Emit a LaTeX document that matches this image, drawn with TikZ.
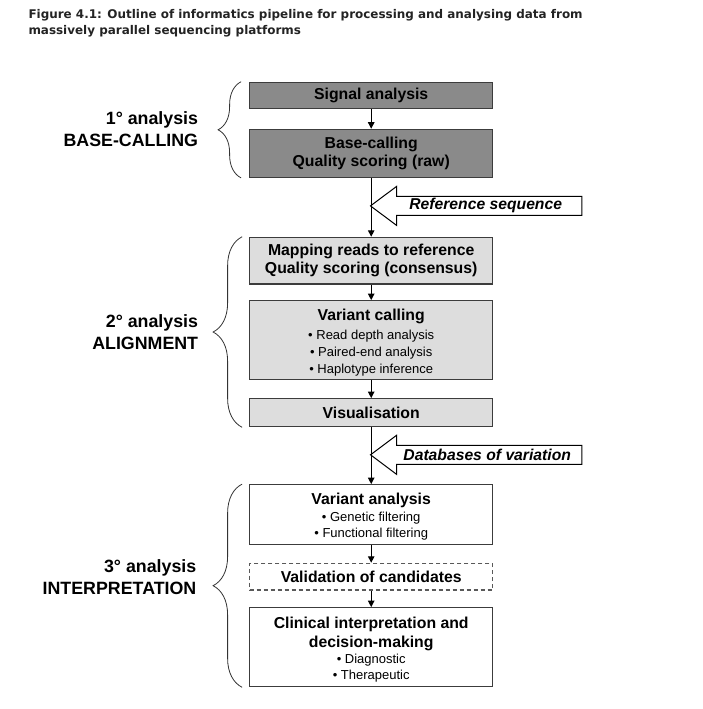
\documentclass[tikz,border=0pt]{standalone}
\usepackage{fontspec}
\setmainfont{Liberation Sans}
\newfontfamily\titlefamily{DejaVu Sans}
\usetikzlibrary{arrows.meta,decorations.pathreplacing}

\definecolor{darkbox}{RGB}{138,138,138}
\definecolor{lightbox}{RGB}{221,221,221}
\definecolor{boxline}{RGB}{60,60,60}
\definecolor{titlegrey}{RGB}{35,35,35}

\newcommand\boxfont{\fontsize{15.8}{18}\selectfont\bfseries}
\newcommand\itemfont{\fontsize{13}{16.7}\selectfont\mdseries}
\newcommand\sidefont{\fontsize{17.8}{22}\selectfont\bfseries}
\newcommand\calloutfont{\fontsize{15.7}{18}\selectfont\bfseries\itshape}

\tikzset{
  stage/.style={draw=boxline, line width=1.2pt, minimum width=243pt, align=center, font=\boxfont, inner sep=0pt},
  rawstage/.style={stage, fill=darkbox},
  alnstage/.style={stage, fill=lightbox},
  intstage/.style={stage, fill=white},
  flow/.style={-{Triangle[length=6.5pt,width=6.5pt]}, line width=1pt},
  grpbrace/.style={decorate, decoration={brace, amplitude=#1}, draw=black!80, line width=0.8pt},
  sidelabel/.style={font=\sidefont, align=right, anchor=east, inner sep=0pt},
  callout/.style={font=\calloutfont, minimum width=185pt, minimum height=18.5pt, inner sep=0pt},
  hollow/.style={draw=black, line width=1pt, line join=miter}
}

\begin{document}
\begin{tikzpicture}[x=1pt,y=-1pt]
\useasboundingbox (0,0) rectangle (703,709);

% titolo
\node[font=\titlefamily\fontsize{11.95}{16}\selectfont\bfseries, text=titlegrey, align=left, anchor=north west, inner sep=0pt] (title) at (28.3,9.5)
  {Figure 4.1: Outline of informatics pipeline for processing and analysing data from\\massively parallel sequencing platforms};

% 1 - base-calling
\node[rawstage, minimum height=26pt] (signal) at (371.2,95.3) {Signal analysis};
\node[rawstage, minimum height=48pt] (base) at (371.2,153.3) {Base-calling\\Quality scoring (raw)};

% 2 - alignment
\node[alnstage, minimum height=46.7pt] (mapping) at (371.2,260.7) {Mapping reads to reference\\Quality scoring (consensus)};
\node[alnstage, minimum height=78.6pt] (varcall) at (371.2,340) {\rule{0pt}{16pt}Variant calling\\[1.4pt]\itemfont • Read depth analysis\\[-1.3pt]\itemfont • Paired-end analysis\\[-1.3pt]\itemfont • Haplotype inference};
\node[alnstage, minimum height=28pt] (visual) at (371.2,412.7) {Visualisation};

% 3 - interpretation
\node[intstage, minimum height=59.6pt] (varana) at (371.2,514.5) {\rule{0pt}{16pt}Variant analysis\\[-1.2pt]\itemfont • Genetic filtering\\[-1.5pt]\itemfont • Functional filtering};
\node[intstage, draw=black!65, dash pattern=on 4pt off 3pt, minimum height=26.7pt] (valid) at (371.2,576.7) {Validation of candidates};
\node[intstage, minimum height=79pt] (clinical) at (371.2,647.2) {\rule{0pt}{15.5pt}Clinical interpretation and\\[1pt]decision-making\\[-1.6pt]\itemfont • Diagnostic\\[-2.3pt]\itemfont • Therapeutic};

% frecce esterne
\node[callout] (refseq) at (489.2,205.9) {Reference sequence\hspace*{7pt}};
\draw[hollow] (refseq.north east) -- (refseq.north west) -- ([yshift=10pt]refseq.north west) -- ([xshift=-26pt]refseq.west) -- ([yshift=-10pt]refseq.south west) -- (refseq.south west) -- (refseq.south east) -- cycle;
\node[callout] (vardb) at (489.2,454.8) {Databases of variation\hspace*{4pt}};
\draw[hollow] (vardb.north east) -- (vardb.north west) -- ([yshift=10pt]vardb.north west) -- ([xshift=-26pt]vardb.west) -- ([yshift=-10pt]vardb.south west) -- (vardb.south west) -- (vardb.south east) -- cycle;

% flusso
\draw[flow] (signal) -- (base);
\draw[flow] (base) -- (mapping);
\draw[flow] (mapping) -- (varcall);
\draw[flow] (varcall) -- (visual);
\draw[flow] (visual) -- (varana);
\draw[flow] (varana) -- (valid);
\draw[flow] (valid) -- (clinical);

% graffe
\draw[grpbrace=23pt] ([xshift=-8pt]base.south west) -- ([xshift=-8pt]signal.north west);
\draw[grpbrace=29pt] ([xshift=-7pt]visual.south west) -- ([xshift=-7pt]mapping.north west);
\draw[grpbrace=29pt] ([xshift=-7pt]clinical.south west) -- ([xshift=-7pt]varana.north west);

\node[sidelabel] (lblraw) at (198.3,129.6) {1° analysis\\BASE-CALLING};
\node[sidelabel] (lblaln) at (198.3,332.6) {2° analysis\\ALIGNMENT};
\node[sidelabel] (lblint) at (196.5,577) {3° analysis\\INTERPRETATION};

\end{tikzpicture}
\end{document}
